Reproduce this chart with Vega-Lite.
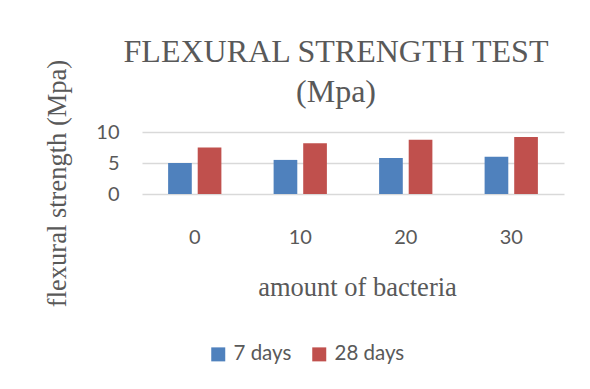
{
  "$schema": "https://vega.github.io/schema/vega-lite/v6.json",
  "width": 422,
  "height": 62,
  "padding": {"left": 44, "top": 36, "right": 5, "bottom": 5},
  "background": "white",
  "title": {
    "text": ["FLEXURAL STRENGTH TEST", "(Mpa)"],
    "font": "Liberation Serif",
    "fontSize": 32,
    "fontWeight": "normal",
    "color": "#595959",
    "lineHeight": 40,
    "anchor": "middle",
    "frame": "group",
    "dx": -17,
    "offset": -50
  },
  "data": {
    "values": [
      {"bacteria": "0", "age": "7 days", "strength": 5.0},
      {"bacteria": "0", "age": "28 days", "strength": 7.5},
      {"bacteria": "10", "age": "7 days", "strength": 5.5},
      {"bacteria": "10", "age": "28 days", "strength": 8.2},
      {"bacteria": "20", "age": "7 days", "strength": 5.8},
      {"bacteria": "20", "age": "28 days", "strength": 8.75},
      {"bacteria": "30", "age": "7 days", "strength": 6.0},
      {"bacteria": "30", "age": "28 days", "strength": 9.2}
    ]
  },
  "mark": {"type": "bar"},
  "encoding": {
    "x": {
      "field": "bacteria",
      "type": "nominal",
      "sort": ["0", "10", "20", "30"],
      "scale": {"paddingInner": 0.495, "paddingOuter": 0.2475},
      "axis": {
        "title": "amount of bacteria",
        "labelAngle": 0,
        "labelDx": 4,
        "ticks": false,
        "domain": false,
        "labelPadding": 33,
        "titlePadding": 27,
        "titleX": 215
      }
    },
    "xOffset": {
      "field": "age",
      "type": "nominal",
      "sort": ["7 days", "28 days"],
      "scale": {"paddingInner": 0.2, "paddingOuter": 0}
    },
    "y": {
      "field": "strength",
      "type": "quantitative",
      "scale": {"domain": [0, 10]},
      "axis": {
        "title": "flexural strength (Mpa)",
        "values": [0, 5, 10],
        "ticks": false,
        "domain": false,
        "labelPadding": 23,
        "titlePadding": 24,
        "titleY": 51,
        "grid": true
      }
    },
    "color": {
      "field": "age",
      "type": "nominal",
      "sort": ["7 days", "28 days"],
      "scale": {"domain": ["7 days", "28 days"], "range": ["#4F81BD", "#C0504D"]},
      "legend": {
        "title": null,
        "orient": "none",
        "legendX": 66,
        "legendY": 212,
        "direction": "horizontal",
        "symbolType": "square",
        "symbolSize": 196,
        "symbolStrokeWidth": 0,
        "labelFontSize": 20.5,
        "labelFont": "Lato",
        "labelColor": "#595959",
        "labelOffset": 5,
        "columnPadding": 17
      }
    }
  },
  "config": {
    "view": {"stroke": null},
    "axis": {
      "labelFont": "Lato",
      "labelFontSize": 20,
      "labelColor": "#595959",
      "titleFont": "Liberation Serif",
      "titleFontSize": 26.5,
      "titleFontWeight": "normal",
      "titleColor": "#595959",
      "gridColor": "#D9D9D9",
      "gridWidth": 1.5
    },
    "axisX": {"grid": false}
  }
}
